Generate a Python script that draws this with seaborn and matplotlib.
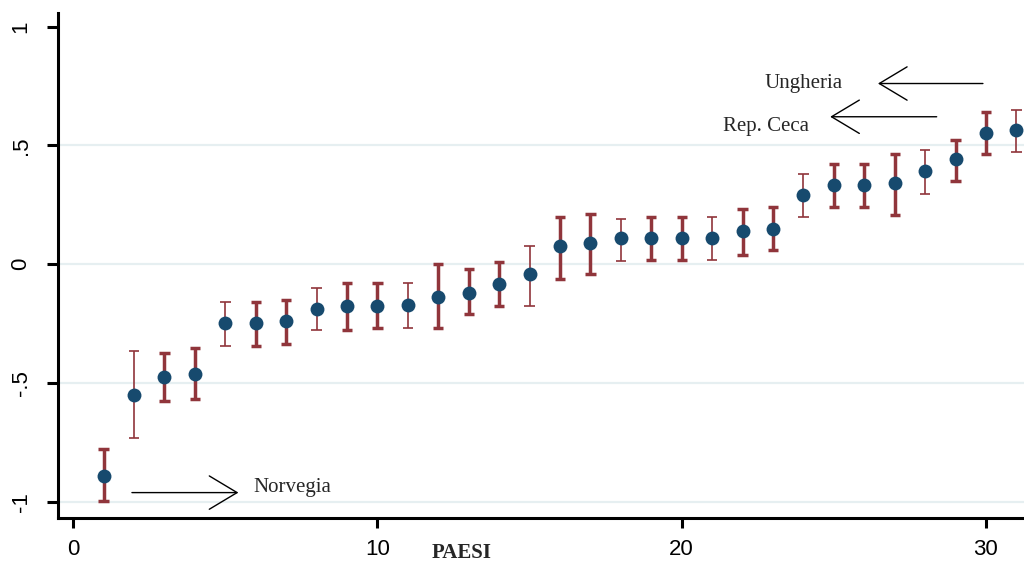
import matplotlib
matplotlib.use("Agg")
import matplotlib.pyplot as plt
import seaborn as sns
import numpy as np

# Country rank (x) with estimated effect and its confidence interval
paesi = list(range(1, 32))
stima = [-0.892, -0.549, -0.477, -0.462, -0.249, -0.249, -0.239, -0.189,
         -0.176, -0.176, -0.170, -0.140, -0.120, -0.085, -0.040, 0.076,
         0.090, 0.111, 0.111, 0.111, 0.111, 0.140, 0.150, 0.291, 0.333,
         0.333, 0.343, 0.394, 0.441, 0.552, 0.564]
ci_basso = [-0.999, -0.732, -0.575, -0.566, -0.346, -0.346, -0.336, -0.277,
            -0.279, -0.267, -0.267, -0.267, -0.210, -0.177, -0.177, -0.061,
            -0.040, 0.012, 0.018, 0.018, 0.016, 0.037, 0.059, 0.199, 0.242,
            0.242, 0.209, 0.297, 0.352, 0.463, 0.472]
ci_alto = [-0.779, -0.367, -0.376, -0.355, -0.160, -0.160, -0.150, -0.100,
           -0.079, -0.079, -0.079, 0.001, -0.020, 0.011, 0.078, 0.198,
           0.212, 0.191, 0.198, 0.198, 0.199, 0.234, 0.241, 0.380, 0.420,
           0.420, 0.463, 0.483, 0.525, 0.642, 0.650]

x_ticks = [0, 10, 20, 30]
y_ticks = [-1, -0.5, 0, 0.5, 1]
y_tick_labels = ["-1", "-.5", "0", ".5", "1"]
grid_levels = [-1, -0.5, 0, 0.5]

NAVY = "#174a6e"
MAROON = "#90353b"
GRID = "#e6eff1"

sns.set_style("white")
plt.rcParams["font.family"] = ["Liberation Sans", "DejaVu Sans"]

fig = plt.figure(figsize=(10.24, 5.67), dpi=100)
ax = fig.add_axes([58 / 1024, 49 / 567, (1024 - 58) / 1024, (518 - 13) / 567])
ax.set_xlim(-0.5, 31.25)
ax.set_ylim(-1.069, 1.058)

for lev in grid_levels:
    ax.axhline(lev, color=GRID, lw=1.6, zorder=0)

# Alternate stroke weights of the interval bars
thin = {2, 5, 8, 11, 15, 18, 21, 24, 28, 31}
lws = [1.2 if p in thin else 2.5 for p in paesi]
cap = 0.17
xs = np.array(paesi, dtype=float)
ax.vlines(xs, ci_basso, ci_alto, colors=MAROON, linewidths=lws, zorder=2)
ax.hlines(ci_basso, xs - cap, xs + cap, colors=MAROON, linewidths=lws, zorder=2)
ax.hlines(ci_alto, xs - cap, xs + cap, colors=MAROON, linewidths=lws, zorder=2)

sns.scatterplot(x=paesi, y=stima, ax=ax, color=NAVY, s=100, marker="o",
                edgecolor=NAVY, linewidth=0, zorder=3, legend=False)

# Spines and ticks
for side in ["top", "right"]:
    ax.spines[side].set_visible(False)
for side in ["left", "bottom"]:
    ax.spines[side].set_color("black")
    ax.spines[side].set_linewidth(2.2)

ax.set_xticks(x_ticks)
ax.set_xticklabels([str(t) for t in x_ticks])
ax.set_yticks(y_ticks)
ax.set_yticklabels(y_tick_labels, rotation=90, va="center")
ax.tick_params(axis="x", direction="out", length=7, width=2.2, pad=8,
               labelsize=16, colors="black", bottom=True)
ax.tick_params(axis="y", direction="out", length=8, width=2.2, pad=11,
               labelsize=16, colors="black", left=True)
ax.set_xlabel("")
ax.set_ylabel("")

fig.text(462 / 1024, 1 - 553 / 567, "PAESI", ha="center", va="center",
         fontsize=15, fontweight="bold", family=["Liberation Serif"])

# Labelled countries
serif = ["Liberation Serif"]
arrow = dict(arrowstyle="->,head_length=1.0,head_width=0.6", color="black",
             lw=1.0, mutation_scale=20, shrinkA=0, shrinkB=0)
ax.annotate("", xy=(26.45, 0.761), xytext=(29.9, 0.761), arrowprops=arrow)
ax.text(24.0, 0.763, "Ungheria", ha="center", va="center", fontsize=15,
        family=serif)
ax.annotate("", xy=(24.88, 0.621), xytext=(28.38, 0.621), arrowprops=arrow)
ax.text(22.77, 0.582, "Rep. Ceca", ha="center", va="center", fontsize=15,
        family=serif)
ax.annotate("", xy=(5.43, -0.962), xytext=(1.93, -0.962), arrowprops=arrow)
ax.text(5.92, -0.942, "Norvegia", ha="left", va="center", fontsize=15,
        family=serif)

fig.savefig("out.png", dpi=100, facecolor="white")
